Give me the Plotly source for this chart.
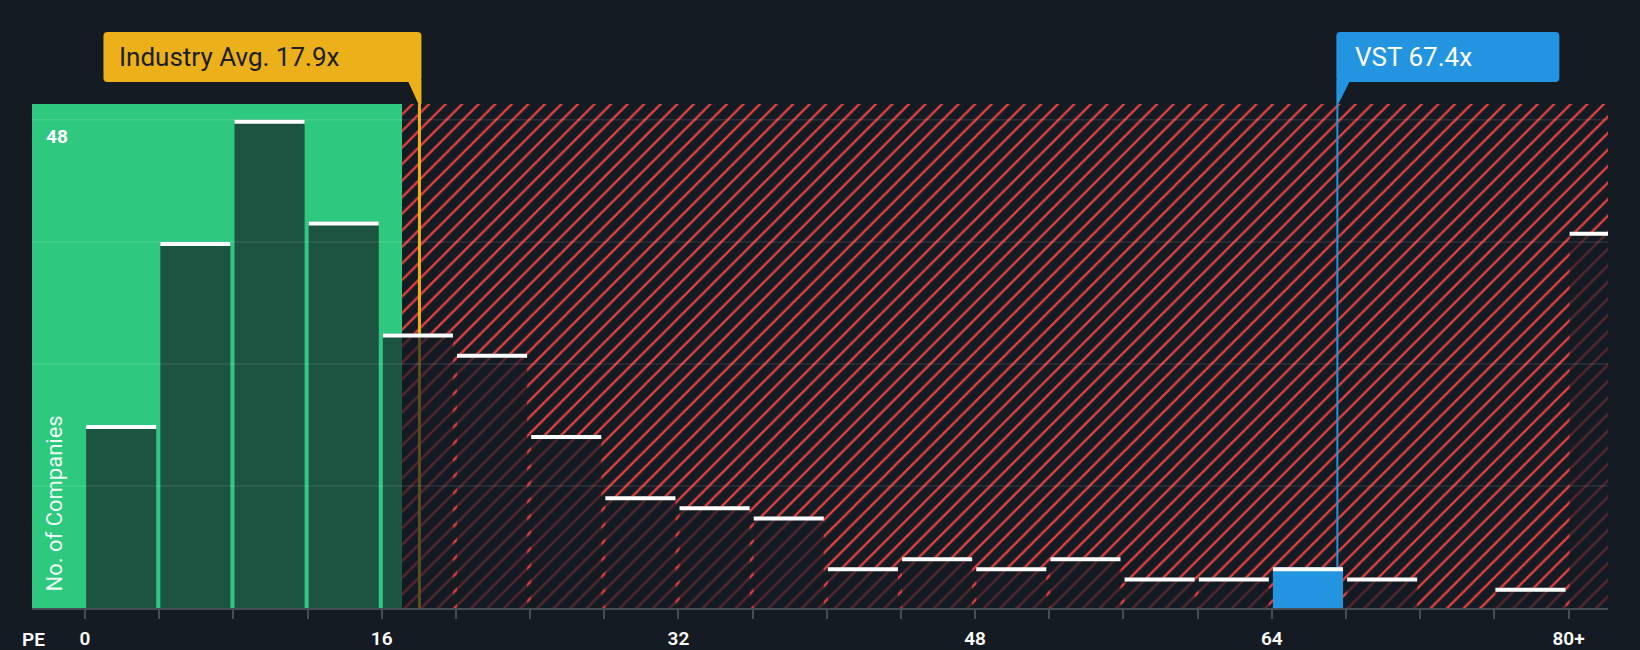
import plotly.graph_objects as go

# ---------------- data ----------------
BIN_STARTS = [0, 4, 8, 12, 16, 20, 24, 28, 32, 36, 40, 44, 48, 52, 56, 60, 64, 68, 72, 76, 80]
COUNTS = [18, 36, 48, 38, 27, 25, 17, 11, 10, 9, 4, 5, 4, 5, 3, 3, 4, 3, 0, 2, 37]
BIN_WIDTH = 4
TICK_VALUES = [0, 4, 8, 12, 16, 20, 24, 28, 32, 36, 40, 44, 48, 52, 56, 60, 64, 68, 72, 76, 80]
TICK_LABELS = ["0", "", "", "", "16", "", "", "", "32", "", "", "", "48", "", "", "", "64", "", "", "", "80+"]
Y_GRID = [12, 24, 36, 48]
INDUSTRY_AVG = 17.9
GOOD_LIMIT = 17.1
COMPANY = "VST"
COMPANY_PE = 67.4

# ---------------- style / geometry ----------------
W, H = 1640, 650
ML, MR, MT, MB = 32, 32, 104, 42
PW, PH = W - ML - MR, H - MT - MB
XMIN, XMAX = -2.86, 82.13
YMAX = 49.56
PPU_X = PW / (XMAX - XMIN)
PPU_Y = PH / YMAX

BG = "#151b23"
GREEN = "#2ec97f"
RED = "#e3403f"
GOLD = "#ecb01b"
BLUE = "#2394df"
AXIS = "#474d56"
BAR_DARK = "rgba(21,27,35,0.68)"
FONT = "Roboto"

BAR_OFFSET = 0.06
BAR_W = 3.78
LINE_SHIFT = 2.5 / PPU_X


def xpx(v):
    return ML + (v - XMIN) * PPU_X


def px2paper(px, py):
    return (px - ML) / PW, (H - MB - py) / PH


def path_from_px(points, close=True):
    parts = []
    for cmd, pts in points:
        coords = []
        for (px, py) in pts:
            x, y = px2paper(px, py)
            coords.append(f"{x:.6f},{y:.6f}")
        parts.append(cmd + " ".join(coords))
    return " ".join(parts) + (" Z" if close else "")


def rrect(x0, y0, x1, y1, r):
    return path_from_px([
        ("M", [(x0 + r, y0)]), ("L", [(x1 - r, y0)]), ("Q", [(x1, y0), (x1, y0 + r)]),
        ("L", [(x1, y1 - r)]), ("Q", [(x1, y1), (x1 - r, y1)]),
        ("L", [(x0 + r, y1)]), ("Q", [(x0, y1), (x0, y1 - r)]),
        ("L", [(x0, y0 + r)]), ("Q", [(x0, y0), (x0 + r, y0)]),
    ])


fig = go.Figure()

# green "good value" region
fig.add_trace(go.Bar(
    x=[(XMIN - 10 + GOOD_LIMIT) / 2], y=[YMAX], width=[GOOD_LIMIT - (XMIN - 10)],
    marker=dict(color=GREEN, line=dict(width=0)), hoverinfo="skip", showlegend=False))

# red hatched region
fig.add_trace(go.Bar(
    x=[(GOOD_LIMIT + XMAX + 10) / 2], y=[YMAX], width=[XMAX + 10 - GOOD_LIMIT],
    marker=dict(color=BG, line=dict(width=0),
                pattern=dict(shape="/", fgcolor=RED, bgcolor=BG, size=11.7, solidity=0.2,
                             fillmode="replace")),
    hoverinfo="skip", showlegend=False))

# industry average line
fig.add_trace(go.Bar(
    x=[INDUSTRY_AVG + LINE_SHIFT], y=[YMAX], width=[3 / PPU_X],
    marker=dict(color=GOLD, line=dict(width=0)), hoverinfo="skip", showlegend=False))

# company line
fig.add_trace(go.Bar(
    x=[COMPANY_PE + LINE_SHIFT], y=[YMAX], width=[2 / PPU_X],
    marker=dict(color=BLUE, line=dict(width=0)), hoverinfo="skip", showlegend=False))

# histogram bars
colors = []
for s in BIN_STARTS:
    colors.append(BLUE if s <= COMPANY_PE < s + BIN_WIDTH else BAR_DARK)
fig.add_trace(go.Bar(
    x=BIN_STARTS, y=COUNTS, width=[BAR_W] * len(BIN_STARTS), offset=BAR_OFFSET,
    marker=dict(color=colors, line=dict(width=0)), showlegend=False,
    hovertemplate="PE %{x}: %{y}<extra></extra>"))

# white caps
cx, cy = [], []
for s, c in zip(BIN_STARTS, COUNTS):
    if c > 0:
        yv = c - 2 / PPU_Y
        cx += [s + BAR_OFFSET, s + BAR_OFFSET + BAR_W, None]
        cy += [yv, yv, None]
fig.add_trace(go.Scatter(x=cx, y=cy, mode="lines", line=dict(color="white", width=4),
                         hoverinfo="skip", showlegend=False))

shapes = []
for g in Y_GRID:
    shapes.append(dict(type="line", xref="paper", yref="y", x0=0, x1=1, y0=g, y1=g,
                       line=dict(color="rgba(255,255,255,0.1)", width=1.5), layer="above"))

# industry avg label box
ax = xpx(INDUSTRY_AVG) + 2.5
box_r = ax + 2
box_l = box_r - 318
shapes.append(dict(type="path", xref="paper", yref="paper", path=rrect(box_l, 32, box_r, 82, 4),
                   fillcolor=GOLD, line=dict(width=0), layer="above"))
shapes.append(dict(type="path", xref="paper", yref="paper",
                   path=path_from_px([("M", [(box_r - 14, 80)]), ("L", [(box_r, 80)]),
                                      ("L", [(box_r, MT)]), ("L", [(box_r - 3, MT)])]),
                   fillcolor=GOLD, line=dict(width=0), layer="above"))

# company label box
vx = xpx(COMPANY_PE) + 2.5
vbox_l = vx - 1
vbox_r = vbox_l + 223
shapes.append(dict(type="path", xref="paper", yref="paper", path=rrect(vbox_l, 32, vbox_r, 82, 4),
                   fillcolor=BLUE, line=dict(width=0), layer="above"))
shapes.append(dict(type="path", xref="paper", yref="paper",
                   path=path_from_px([("M", [(vbox_l, 80)]), ("L", [(vbox_l + 14, 80)]),
                                      ("L", [(vbox_l + 2, MT)]), ("L", [(vbox_l, MT)])]),
                   fillcolor=BLUE, line=dict(width=0), layer="above"))

annotations = []
tx, ty = px2paper(box_l + 14, 57)
annotations.append(dict(text=f"Industry Avg. {INDUSTRY_AVG}x", xref="paper", yref="paper", x=tx, y=ty,
                        xanchor="left", yanchor="middle", showarrow=False,
                        font=dict(family=FONT, size=26, color="#1b2027")))
tx, ty = px2paper(vbox_l + 17, 57)
annotations.append(dict(text=f"{COMPANY} {COMPANY_PE}x", xref="paper", yref="paper", x=tx, y=ty,
                        xanchor="left", yanchor="middle", showarrow=False,
                        font=dict(family=FONT, size=26, color="white")))
# top gridline value
annotations.append(dict(text=str(Y_GRID[-1]), xref="paper", yref="y", x=(44 - ML) / PW, y=Y_GRID[-1],
                        yshift=-17, xanchor="left", yanchor="middle", showarrow=False,
                        font=dict(family=FONT, size=19, color="white", weight="bold")))
# y axis title
tx, ty = px2paper(54, 503.5)
annotations.append(dict(text="No. of Companies", xref="paper", yref="paper", x=tx, y=ty,
                        xanchor="center", yanchor="middle", textangle=-90, showarrow=False,
                        font=dict(family=FONT, size=22, color="rgba(255,255,255,0.92)")))
# x axis title
tx, ty = px2paper(21, 639)
annotations.append(dict(text="PE", xref="paper", yref="paper", x=tx, y=ty, borderpad=0,
                        xanchor="left", yanchor="middle", showarrow=False,
                        font=dict(family=FONT, size=19, color="white", weight=600)))

fig.update_layout(
    width=W, height=H,
    margin=dict(l=ML, r=MR, t=MT, b=MB, pad=0, autoexpand=False),
    paper_bgcolor=BG, plot_bgcolor=BG,
    barmode="overlay",
    shapes=shapes, annotations=annotations,
    showlegend=False,
    xaxis=dict(range=[XMIN, XMAX], tickmode="array", tickvals=TICK_VALUES, ticktext=TICK_LABELS,
               ticks="outside", ticklen=9, tickwidth=2, tickcolor=AXIS, automargin=False,
               showline=True, linecolor=AXIS, linewidth=2, showgrid=False, zeroline=False,
               ticklabelstandoff=3,
               tickfont=dict(family=FONT, size=19, color="white", weight=600), fixedrange=True),
    yaxis=dict(range=[0, YMAX], showgrid=False, zeroline=False, showticklabels=False,
               ticks="", showline=False, fixedrange=True, automargin=False),
)

fig.write_html("out.html", config={"displayModeBar": False},
               post_script="document.body.style.margin='0';document.body.style.background='#151b23';")
